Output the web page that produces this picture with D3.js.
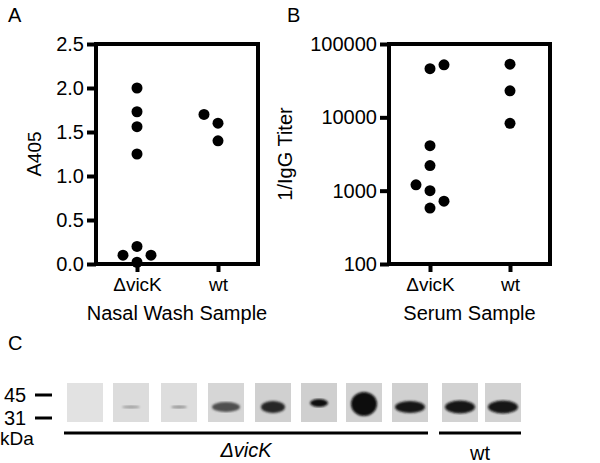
<!DOCTYPE html><html><head><meta charset="utf-8"><script src="https://cdn.jsdelivr.net/npm/d3@7"></script>
<style>body{margin:0;background:#fff}text{font-family:"Liberation Sans",Arial,sans-serif;fill:#000}</style></head><body>
<svg id="c" width="600" height="463"></svg>
<script>
const categories=["\u0394vicK","wt"];
const nasalVick=[2.0,1.73,1.56,1.25,0.2,0.1,0.1,0.02];
const nasalVickJit=[0,0,0,0,0,-1,1,0];
const nasalWt=[1.7,1.6,1.4];
const nasalWtJit=[-1,0,0];
const serumVick=[52000,46000,4100,2200,1200,1000,720,580];
const serumVickJit=[1,0,0,0,-1,0,1,0];
const serumWt=[53000,23000,8300];
const serumWtJit=[0,0,0];
const nasalTicks=[0,0.5,1.0,1.5,2.0,2.5];
const serumTicks=[100,1000,10000,100000];
const blotIntensity=[0,0.3,0.35,0.65,0.85,0.97,1,0.92,0.95,0.95];
const blotBandW=[0,18,16,28,24,18,26,30,30,30];
const blotBandH=[0,3,3,10,12,8,24,12,13,13];
const blotBg=["#e2e2e2","#dcdcdc","#dddddd","#d6d6d6","#d0d0d0","#cfcfcf","#d2d2d2","#d0d0d0","#d2d2d2","#d2d2d2"];
const blotGroups=[{label:"\u0394vicK",from:0,to:7},{label:"wt",from:8,to:9}];

const svg=d3.select("#c");
const defs=svg.append("defs");
defs.append("filter").attr("id","bl").append("feGaussianBlur").attr("stdDeviation",1.2);

function panel(x0,x1,y,ticks,fmt,vick,vj,wt,wj,cx,title,xtitle,letter,lx,tx){
  const xs=d3.scalePoint().domain(categories).range(cx);
  const g=svg.append("g");
  g.append("rect").attr("x",x0).attr("y",y.range()[1]).attr("width",x1-x0).attr("height",y.range()[0]-y.range()[1]).attr("fill","none").attr("stroke","#000").attr("stroke-width",4);
  const ay=g.append("g").attr("transform",`translate(${x0},0)`).call(d3.axisLeft(y).tickValues(ticks).tickFormat(fmt).tickSize(9).tickPadding(3));
  ay.attr("font-size",null).attr("font-family",null);
  ay.select(".domain").remove();
  ay.selectAll("line").attr("stroke-width",4);
  ay.selectAll("text").style("font-size","20px");
  const ax=g.append("g").attr("transform",`translate(0,${y.range()[0]})`).call(d3.axisBottom(xs).tickSize(8).tickPadding(6));
  ax.attr("font-size",null).attr("font-family",null);
  ax.select(".domain").remove();
  ax.selectAll("line").attr("stroke-width",4);
  ax.selectAll("text").style("font-size","19px");
  const dx=14;
  g.selectAll(".v").data(vick).join("circle").attr("cx",(d,i)=>xs(categories[0])+vj[i]*dx).attr("cy",d=>y(d)).attr("r",5.5);
  g.selectAll(".w").data(wt).join("circle").attr("class","w").attr("cx",(d,i)=>xs(categories[1])+wj[i]*dx).attr("cy",d=>y(d)).attr("r",5.5);
  g.append("text").attr("x",(x0+x1)/2).attr("y",320).attr("text-anchor","middle").style("font-size","20px").text(xtitle);
  const t=g.append("text").attr("transform",`translate(${tx},154) rotate(-90)`).attr("text-anchor","middle").style("font-size","20px");
  title(t);
  g.append("text").attr("x",lx).attr("y",22).style("font-size","20px").text(letter);
}
panel(96,258,d3.scaleLinear().domain([0,2.5]).range([264,44]),nasalTicks,d3.format(".1f"),nasalVick,nasalVickJit,nasalWt,nasalWtJit,[137,218],
 t=>{t.append("tspan").text("A");t.append("tspan").style("font-size","19px").text("405");},"Nasal Wash Sample","A",8,41);
panel(389,550,d3.scaleLog().domain([100,100000]).range([264,44]),serumTicks,d3.format("d"),serumVick,serumVickJit,serumWt,serumWtJit,[430,510],
 t=>t.text("1/IgG Titer"),"Serum Sample","B",287,292);

// Panel C
svg.append("text").attr("x",8).attr("y",350).style("font-size","20px").text("C");
const lanesX=[67,113,161,208,255,301,346,392,442,485];
const laneW=36;
const ky=d3.scaleLinear().domain([31,45]).range([418,395]);
[45,31].forEach(k=>{
  svg.append("text").attr("x",4).attr("y",ky(k)+7).style("font-size","20px").text(k);
  svg.append("line").attr("x1",35).attr("x2",52).attr("y1",ky(k)).attr("y2",ky(k)).attr("stroke","#000").attr("stroke-width",3);
});
svg.append("text").attr("x",0).attr("y",445).style("font-size","19px").text("kDa");
const lanes=svg.selectAll(".lane").data(blotIntensity).join("g");
lanes.append("rect").attr("x",(d,i)=>lanesX[i]).attr("y",383).attr("width",laneW).attr("height",39).attr("fill",(d,i)=>blotBg[i]);
lanes.append("ellipse").attr("cx",(d,i)=>lanesX[i]+laneW/2).attr("cy",(d,i)=>i==5?403:i==6?404:407)
 .attr("rx",(d,i)=>blotBandW[i]/2).attr("ry",(d,i)=>blotBandH[i]/2)
 .attr("fill",(d,i)=>d3.interpolateRgb(blotBg[i],"#080808")(d)).attr("filter","url(#bl)");
blotGroups.forEach(gp=>{
  const a=lanesX[gp.from]-3,b=lanesX[gp.to]+laneW;
  svg.append("line").attr("x1",a).attr("x2",b).attr("y1",433).attr("y2",433).attr("stroke","#000").attr("stroke-width",3);
  svg.append("text").attr("x",(a+b)/2).attr("y",gp.label=="wt"?460:457).attr("text-anchor","middle").style("font-size","20px").style("font-style",gp.label=="wt"?"normal":"italic").text(gp.label);
});
</script></body></html>
